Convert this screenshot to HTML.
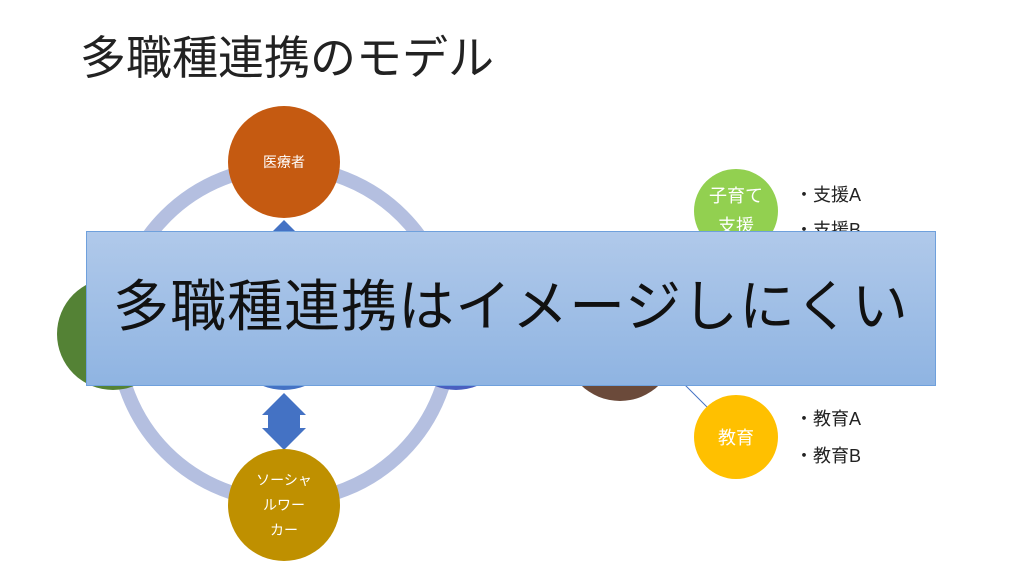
<!DOCTYPE html>
<html><head><meta charset="utf-8"><style>
body{margin:0;width:1024px;height:576px;overflow:hidden;background:#fff;position:relative;font-family:"Liberation Sans","Noto Sans CJK JP",sans-serif}
.a{position:absolute}
.c{position:absolute;border-radius:50%;color:#fff;display:flex;align-items:center;justify-content:center;text-align:center}
</style></head><body>
<div class="a" style="left:80px;top:22px;font-size:46px;color:#222;white-space:nowrap">多職種連携のモデル</div>
<svg class="a" style="left:0;top:0" width="1024" height="576">
<circle cx="284" cy="334" r="167" fill="none" stroke="#b4bfe0" stroke-width="14"/>
<polygon points="284,220 306,242 296,242 296,260 272,260 272,242 262,242" fill="#4472c4"/>
<polygon points="284,393 306,415 300,415 300,428 306,428 284,450 262,428 268,428 268,415 262,415" fill="#4472c4"/>
<circle cx="284" cy="334" r="56" fill="#4472c4"/>
<circle cx="456" cy="334" r="56" fill="#4a5fc0"/>
<circle cx="620" cy="345" r="56" fill="#6b4a3a"/>
<line x1="685" y1="385" x2="708" y2="408" stroke="#4472c4" stroke-width="1"/>
</svg>
<div class="c" style="left:228px;top:106px;width:112px;height:112px;background:#c55a11;font-size:14px">医療者</div>
<div class="c" style="left:57px;top:278px;width:112px;height:112px;background:#548235"></div>
<div class="c" style="left:228px;top:449px;width:112px;height:112px;background:#bf9000;font-size:14px;line-height:25px">ソーシャ<br>ルワー<br>カー</div>
<div class="c" style="left:694px;top:169px;width:84px;height:84px;background:#92d050;font-size:18px;line-height:30px;align-items:flex-start;padding-top:12px;box-sizing:border-box">子育て<br>支援</div>
<div class="c" style="left:694px;top:395px;width:84px;height:84px;background:#ffc000;font-size:18px">教育</div>
<div class="a" style="left:795px;top:178px;font-size:18px;line-height:35px;color:#222">・支援A<br>・支援B</div>
<div class="a" style="left:795px;top:401px;font-size:18px;line-height:37px;color:#222">・教育A<br>・教育B</div>
<div class="a" style="left:86px;top:231px;width:850px;height:155px;background:linear-gradient(#b0c9ea,#8fb4e2);border:1px solid #6fa0dc;display:flex;align-items:center;justify-content:center;font-size:56px;color:#111;letter-spacing:1px;padding-bottom:12px;box-sizing:border-box">多職種連携はイメージしにくい</div>
</body></html>
